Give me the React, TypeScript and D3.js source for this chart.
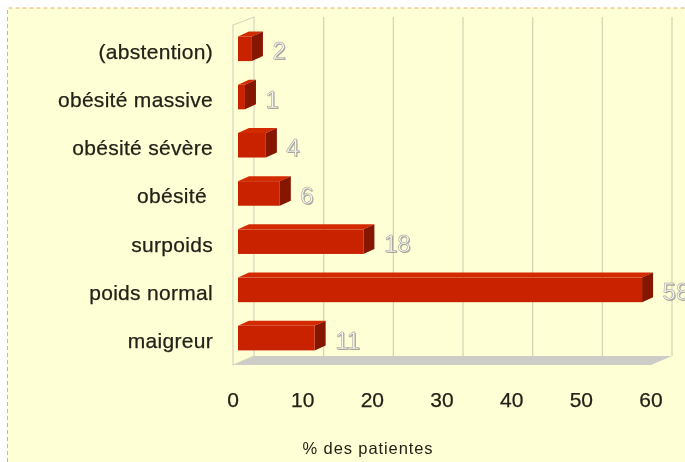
import React from "react";
import * as d3 from "d3";

const categories = ["(abstention)", "obésité massive", "obésité sévère", "obésité ", "surpoids", "poids normal", "maigreur"];
const values = [2, 1, 4, 6, 18, 58, 11];
const xTicks = [0, 10, 20, 30, 40, 50, 60];
const xTitle = "% des patientes";

const W = 685, H = 462;
const depthX = 21, depthY = 9;
const frontX0 = 233, frontX1 = 651;
const wallBottom = 365, wallTop = 25;
const barInset = 5, barDX = 11, barDY = 5;

const x = d3.scaleLinear().domain([0, 60]).range([frontX0, frontX1]);
const y = d3.scaleBand<string>().domain(categories).range([24.7, 362.2]).paddingInner(0.49).paddingOuter(0.245);
const pts = (p: number[][]) => p.map((q) => q.join(",")).join(" ");
const FONT = "'Liberation Sans', Arial, sans-serif";

export default function App() {
  return (
    <svg width={W} height={H} viewBox={`0 0 ${W} ${H}`} style={{ position: "fixed", left: 0, top: 0, background: "#fff", display: "block" }}>
      <defs>
        <filter id="soft" x="-5%" y="-5%" width="110%" height="110%">
          <feGaussianBlur stdDeviation="0.5" />
        </filter>
      </defs>
      <g filter="url(#soft)">
        <rect x={7.5} y={8} width={W} height={H} fill="#FFFFD6" />
        <path d={`M7.5 ${H} V8 H${W}`} fill="none" stroke="#E0B070" strokeWidth={1} strokeDasharray="4 3" />
        <polygon
          points={pts([[x(0), wallBottom], [x(0) + depthX, wallBottom - depthY], [x(60) + depthX, wallBottom - depthY], [x(60), wallBottom]])}
          fill="#CDCDC8"
        />
        <polygon
          points={pts([[x(0), wallTop], [x(0) + depthX, wallTop - depthY + 1], [x(0) + depthX, wallBottom - depthY], [x(0), wallBottom]])}
          fill="none"
          stroke="#D6D6BC"
          strokeWidth={1.2}
        />
        {xTicks.slice(1).map((t) => (
          <line key={t} x1={x(t) + depthX} x2={x(t) + depthX} y1={wallTop - depthY + 1} y2={wallBottom - depthY} stroke="#D6D6B4" strokeWidth={1.3} />
        ))}
        {categories.map((c, i) => {
          const top = y(c)!;
          const h = y.bandwidth();
          const x0 = x(0) + barInset;
          const x1 = x(values[i]) + barInset;
          return (
            <g key={c}>
              <polygon points={pts([[x0, top], [x0 + barDX, top - barDY], [x1 + barDX, top - barDY], [x1, top]])} fill="#D42A04" />
              <polygon points={pts([[x1, top], [x1 + barDX, top - barDY], [x1 + barDX, top + h - barDY], [x1, top + h]])} fill="#851200" />
              <rect x={x0} y={top} width={x1 - x0} height={h} fill="#C92400" />
              <text x={x1 + barDX + 10.5} y={top + h / 2 + 11.5} fontFamily={FONT} fontSize={24} fill="#6d6d6d" opacity={0.55}>{values[i]}</text>
              <text x={x1 + barDX + 9.5} y={top + h / 2 + 10.5} fontFamily={FONT} fontSize={24} fill="#F6F6EE" stroke="#9A9A92" strokeWidth={0.5}>{values[i]}</text>
              <text x={213} y={top + h / 2 + 10} textAnchor="end" fontFamily={FONT} fontSize={21} letterSpacing={0.3} fill="#222218" stroke="#222218" strokeWidth={0.25} style={{ whiteSpace: "pre" }}>{c}</text>
            </g>
          );
        })}
        {xTicks.map((t) => (
          <text key={t} x={x(t)} y={406.5} textAnchor="middle" fontFamily={FONT} fontSize={21} fill="#222218" stroke="#222218" strokeWidth={0.25}>{t}</text>
        ))}
        <text x={368} y={454} textAnchor="middle" fontFamily={FONT} fontSize={16.5} letterSpacing={0.9} fill="#222218">{xTitle}</text>
      </g>
    </svg>
  );
}
